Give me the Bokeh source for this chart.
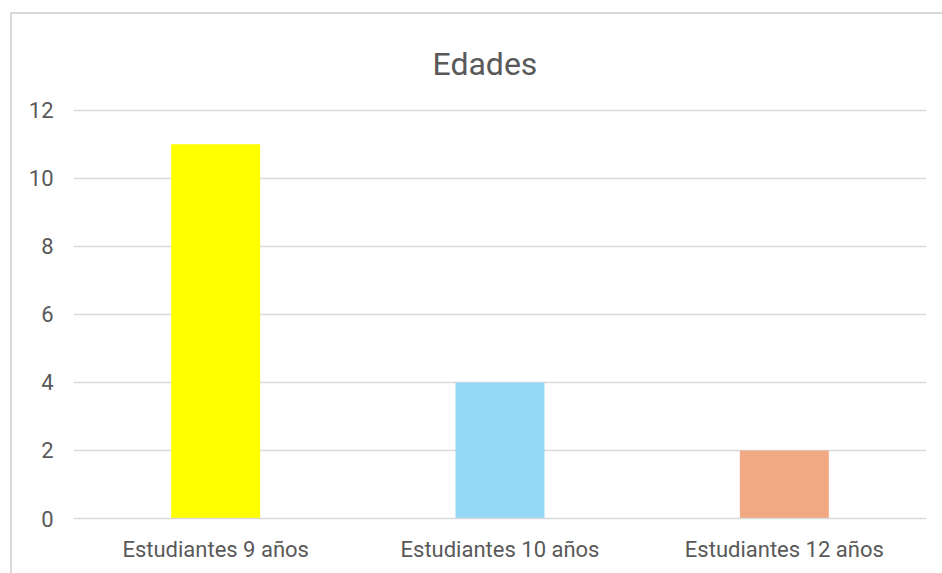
from bokeh.plotting import figure
from bokeh.models import FixedTicker, ColumnDataSource, Range1d
from bokeh.embed import file_html
from bokeh.resources import INLINE

title_text = "Edades"
categories = ["Estudiantes 9 años", "Estudiantes 10 años", "Estudiantes 12 años"]
values = [11, 4, 2]
colors = ["#FFFF00", "#94D8F6", "#F1A983"]
y_ticks = [0, 2, 4, 6, 8, 10, 12]

TEXT = "#595959"
GRID = "#D9D9D9"
FONT = "Roboto"

src = ColumnDataSource(dict(cat=categories, val=values, color=colors))

p = figure(
    x_range=categories, y_range=Range1d(0, 12.05),
    width=932, height=561,
    output_backend="svg", toolbar_location=None,
    min_border_left=61, min_border_right=18, min_border_top=94, min_border_bottom=57,
    margin=(12, 0, 0, 10),
    title=title_text,
)
p.styles = {"border-left": "2px solid #D9D9D9", "border-top": "2px solid #D9D9D9", "box-sizing": "border-box"}

p.vbar(x="cat", top="val", width=0.313, color="color", source=src, line_color=None)

p.outline_line_color = None
p.background_fill_color = "white"
p.border_fill_color = "white"

p.title.align = "left"
p.title.offset = 359
p.title.text_font = FONT
p.title.text_font_size = "32px"
p.title.text_font_style = "normal"
p.title.text_color = TEXT
p.title.standoff = 51

p.xgrid.grid_line_color = None
p.ygrid.grid_line_color = GRID
p.ygrid.grid_line_width = 1.5
p.yaxis.ticker = FixedTicker(ticks=y_ticks)

for ax in (p.xaxis, p.yaxis):
    ax.axis_line_color = None
    ax.major_tick_line_color = None
    ax.minor_tick_line_color = None
    ax.major_tick_out = 0
    ax.major_tick_in = 0
    ax.major_label_text_color = TEXT
    ax.major_label_text_font = FONT
    ax.major_label_text_font_size = "22px"

p.xaxis.axis_line_color = GRID
p.xaxis.axis_line_width = 1.5
p.xaxis.major_label_standoff = 18
p.yaxis.major_label_standoff = 20

open("out.html", "w").write(file_html(p, INLINE))
